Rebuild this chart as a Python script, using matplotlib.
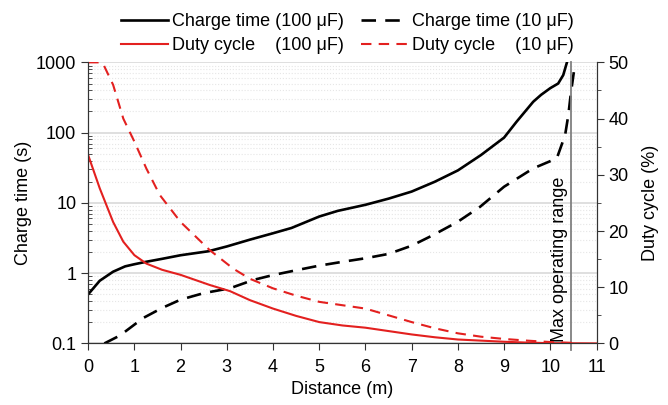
import numpy as np
import matplotlib.pyplot as plt
from matplotlib.ticker import LogLocator, NullFormatter, MultipleLocator

plt.rcParams['font.family'] = ['Liberation Sans', 'DejaVu Sans']

# Tempo de carga (s) - eixo esquerdo, escala log
dist_ct100 = [0, 0.25, 0.54, 0.8, 1.0, 1.25, 1.6, 2.0, 2.6, 3.0, 3.5, 4.0, 4.4, 5.0, 5.4,
              6.0, 6.5, 7.0, 7.5, 8.0, 8.5, 9.0, 9.27, 9.63, 9.8, 10.0, 10.17, 10.28, 10.36]
ct100 = [0.5, 0.78, 1.05, 1.25, 1.34, 1.45, 1.6, 1.8, 2.05, 2.4, 3.0, 3.7, 4.4, 6.4, 7.7,
         9.4, 11.5, 14.5, 20, 29, 48, 85, 143, 275, 345, 430, 500, 660, 1000]

dist_ct10 = [0.35, 0.69, 1.19, 1.6, 2.0, 2.5, 3.07, 3.57, 4.0, 4.5, 5.0, 5.5, 6.0, 6.5, 7.0,
             7.47, 8.0, 8.48, 9.0, 9.63, 10.14, 10.32, 10.39, 10.44, 10.51, 10.53]
ct10 = [0.1, 0.13, 0.23, 0.32, 0.42, 0.52, 0.61, 0.8, 0.94, 1.1, 1.28, 1.45, 1.63, 1.88, 2.46,
        3.5, 5.4, 8.8, 17, 31, 43, 92, 178, 343, 735, 800]

# Ciclo de trabalho (%) - eixo direito
dist_dc100 = [0, 0.25, 0.54, 0.76, 1.0, 1.26, 1.6, 2.0, 2.63, 3.07, 3.5, 4.0, 4.5, 5.0, 5.5,
              6.0, 6.5, 7.0, 7.5, 8.0, 8.5, 9.0, 9.5, 10.0, 11.0]
dc100 = [33.5, 27.6, 21.6, 18.1, 15.7, 14.2, 13.1, 12.2, 10.4, 9.3, 7.7, 6.2, 4.9, 3.8, 3.2,
         2.8, 2.2, 1.6, 1.1, 0.7, 0.5, 0.3, 0.15, 0.05, 0.0]

dist_dc10 = [0, 0.25, 0.32, 0.54, 0.76, 1.0, 1.26, 1.55, 2.0, 2.63, 3.14, 3.5, 4.0, 4.5, 5.0,
             5.5, 6.0, 6.5, 7.0, 7.5, 8.0, 8.5, 9.0, 9.5, 10.0, 10.5]
dc10 = [50, 50, 49.8, 46, 40, 35.9, 31.1, 26.4, 21.6, 16.6, 13.3, 11.5, 9.8, 8.5, 7.4,
        6.8, 6.2, 5.0, 3.8, 2.7, 1.8, 1.2, 0.8, 0.5, 0.25, 0.1]

max_range = 10.44
red = '#e3201f'
fs = 13

fig = plt.figure(figsize=(6.68, 4.05), dpi=100)
ax = fig.add_axes([0.132, 0.152, 0.761, 0.694])
ax2 = ax.twinx()

# grade horizontal (décadas e sub-décadas)
ax.set_yscale('log')
ax.set_ylim(0.1, 1000)
ax.set_xlim(0, 11)
ax.yaxis.set_minor_locator(LogLocator(base=10, subs=np.arange(2, 10)))
ax.yaxis.set_minor_formatter(NullFormatter())
ax.grid(axis='y', which='major', color='#d9d9d9', lw=1.2)
ax.grid(axis='y', which='minor', color='#e6e6e6', lw=0.8, ls=':')
ax.set_axisbelow(True)

l1, = ax.plot(dist_ct100, ct100, color='black', lw=1.9, label='Charge time (100 μF)')
l2, = ax.plot(dist_ct10, ct10, color='black', lw=1.9, dashes=(5.5, 3.5), label='Charge time (10 μF)')
l3, = ax2.plot(dist_dc100, dc100, color=red, lw=1.5, label='Duty cycle    (100 μF)')
l4, = ax2.plot(dist_dc10, dc10, color=red, lw=1.5, dashes=(5, 3.5), label='Duty cycle    (10 μF)')

# linha do alcance máximo
ax.axvline(max_range, ymin=-0.025, ymax=1, color='#808080', lw=1.3, clip_on=False)
ax.text(max_range - 0.06, 0.105, 'Max operating range', rotation=90, ha='right', va='bottom',
        fontsize=fs, color='black')

ax.set_yticks([0.1, 1, 10, 100, 1000])
ax.set_yticklabels(['0.1', '1', '10', '100', '1000'])
ax.set_xticks(range(0, 12))
ax2.set_ylim(0, 50)
ax2.yaxis.set_major_locator(MultipleLocator(10))
ax2.yaxis.set_minor_locator(MultipleLocator(5))

for a in (ax, ax2):
    a.spines['top'].set_visible(False)
    for s in a.spines.values():
        s.set_color('#333333')
ax.tick_params(axis='both', which='major', labelsize=fs, direction='out', length=5, color='#333333')
ax.tick_params(axis='x', which='major', pad=6)
ax.tick_params(axis='y', which='minor', direction='in', length=3, color='#333333')
ax2.tick_params(axis='y', which='major', labelsize=fs, direction='out', length=5, color='#333333')
ax2.tick_params(axis='y', which='minor', direction='out', length=3, color='#333333')

ax.set_xlabel('Distance (m)', fontsize=fs, labelpad=4)
ax.set_ylabel('Charge time (s)', fontsize=fs, labelpad=3)
ax2.set_ylabel('Duty cycle (%)', fontsize=fs, labelpad=10)

# legenda em duas linhas: tempo de carga em cima, ciclo de trabalho embaixo
fig.legend(handles=[l1, l3, l2, l4], ncol=2, loc='upper center', bbox_to_anchor=(0.52, 0.995),
           frameon=False, fontsize=fs, handlelength=2.6, handletextpad=0.2, columnspacing=1.0,
           labelspacing=0.42, borderaxespad=0.2)

plt.savefig('out.png', dpi=100)
